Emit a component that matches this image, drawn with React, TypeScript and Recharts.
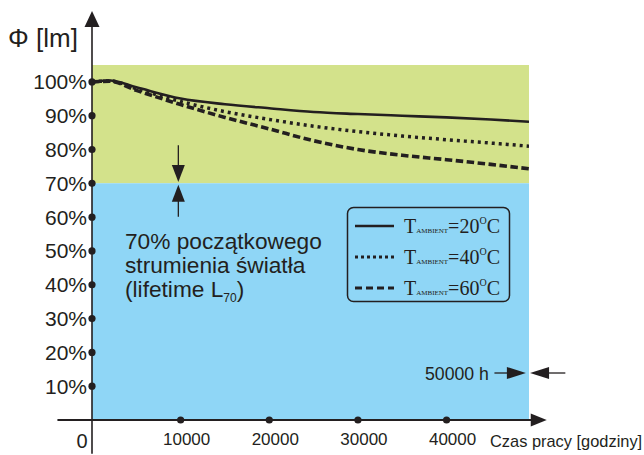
import React from "react"
import { ComposedChart, Line, XAxis, YAxis, ReferenceArea, ReferenceLine, ReferenceDot } from "recharts"

// operating hours and relative luminous flux (%) for three ambient temperatures
const HOURS = [0, 2000, 5000, 10000, 15000, 20000, 25000, 30000, 35000, 40000, 45000, 49300]
const T20 = [100, 100.4, 98.4, 95.1, 93.4, 92.2, 91.1, 90.5, 90.0, 89.5, 88.9, 88.2]
const T40 = [100, 100.3, 98.0, 94.2, 91.2, 88.9, 86.9, 85.3, 84.0, 82.9, 81.9, 81.0]
const T60 = [100, 100.2, 97.5, 93.3, 89.5, 86.1, 82.6, 80.0, 78.3, 77.0, 75.6, 74.3]

const X_TICKS = [10000, 20000, 30000, 40000]
const Y_TICKS = [10, 20, 30, 40, 50, 60, 70, 80, 90, 100]

const rows = HOURS.map((h, i) => ({ h, t20: T20[i], t40: T40[i], t60: T60[i] }))

const INK = "#231f20"
const GREEN = "#d3e28b"
const BLUE = "#8fd6f6"
const SANS = "'Liberation Sans', Arial, sans-serif"
const SERIF = "'Liberation Serif', 'Times New Roman', serif"

const YTick = (p: any) => (
  <g>
    <circle cx={p.x} cy={p.y} r={3.6} fill={INK} />
    <text x={p.x - 5} y={p.y + 7.5} textAnchor="end" fontFamily={SANS} fontSize={21} fill={INK}>
      {p.payload.value}%
    </text>
  </g>
)

const XTick = (p: any) => (
  <g>
    <circle cx={p.x} cy={p.y} r={3.6} fill={INK} />
    <text x={p.x + 6} y={p.y + 25} textAnchor="middle" fontFamily={SANS} fontSize={17} fill={INK}>
      {p.payload.value}
    </text>
  </g>
)

// arrowhead with its tip at the reference point
const head = (dir: string, len: number, wid: number) => (p: any) => {
  const { cx, cy } = p
  const w = wid / 2
  let pts = ""
  if (dir === "up") pts = `${cx},${cy} ${cx - w},${cy + len} ${cx + w},${cy + len}`
  if (dir === "down") pts = `${cx},${cy} ${cx - w},${cy - len} ${cx + w},${cy - len}`
  if (dir === "right") pts = `${cx},${cy} ${cx - len},${cy - w} ${cx - len},${cy + w}`
  if (dir === "left") pts = `${cx},${cy} ${cx + len},${cy - w} ${cx + len},${cy + w}`
  return <polygon points={pts} fill={INK} />
}

const LegendRow = ({ y, dash, label }: { y: number; dash?: string; label: string }) => (
  <g>
    <line x1={355} x2={394} y1={y} y2={y} stroke={INK} strokeWidth={dash ? 3 : 2.4} strokeDasharray={dash} />
    <text x={404} y={y + 7} fontFamily={SERIF} fontSize={20} fill={INK}>
      T<tspan fontSize={7}>AMBIENT</tspan>={label}
      <tspan fontSize={10} dy={-9}>O</tspan>
      <tspan dy={9}>C</tspan>
    </text>
  </g>
)

export default function App() {
  return (
    <div style={{ position: "absolute", left: 0, top: 0, width: 644, height: 455, background: "#fff" }}>
      <ComposedChart width={644} height={455} data={rows} margin={{ top: 65, right: 115, left: 0, bottom: 0 }}>
        <XAxis
          dataKey="h"
          type="number"
          domain={[0, 49300]}
          allowDataOverflow
          ticks={X_TICKS}
          interval={0}
          height={35}
          axisLine={false}
          tickLine={false}
          tickSize={0}
          tickMargin={0}
          tick={XTick}
        />
        <YAxis
          type="number"
          domain={[0, 105]}
          allowDataOverflow
          ticks={Y_TICKS}
          interval={0}
          width={92}
          axisLine={false}
          tickLine={false}
          tickSize={0}
          tickMargin={0}
          tick={YTick}
        />
        <ReferenceArea x1={0} x2={49300} y1={70} y2={105} fill={GREEN} fillOpacity={1} stroke="none" />
        <ReferenceArea x1={0} x2={49300} y1={0} y2={70} fill={BLUE} fillOpacity={1} stroke="none" />

        <Line dataKey="t20" type="monotone" stroke={INK} strokeWidth={2.6} dot={false} isAnimationActive={false} />
        <Line dataKey="t40" type="monotone" stroke={INK} strokeWidth={3.5} strokeDasharray="3 4" dot={false} isAnimationActive={false} />
        <Line dataKey="t60" type="monotone" stroke={INK} strokeWidth={3.6} strokeDasharray="7.5 3.5" dot={false} isAnimationActive={false} />

        {/* axes with arrows */}
        <ReferenceLine segment={[{ x: 0, y: -10 }, { x: 0, y: 118 }]} stroke={INK} strokeWidth={1.6} ifOverflow="visible" />
        <ReferenceLine segment={[{ x: -3900, y: 0 }, { x: 49600, y: 0 }]} stroke={INK} strokeWidth={1.8} ifOverflow="visible" />
        <ReferenceDot x={0} y={121} r={0} ifOverflow="visible" shape={head("up", 16, 15)} />
        <ReferenceDot x={51300} y={0} r={0} ifOverflow="visible" shape={head("right", 16, 13)} />

        {/* 70% marker */}
        <ReferenceLine segment={[{ x: 9740, y: 81.3 }, { x: 9740, y: 74 }]} stroke={INK} strokeWidth={1.3} ifOverflow="visible" />
        <ReferenceDot x={9740} y={70.4} r={0} ifOverflow="visible" shape={head("down", 17, 13)} />
        <ReferenceLine segment={[{ x: 9740, y: 66 }, { x: 9740, y: 60.1 }]} stroke={INK} strokeWidth={1.3} ifOverflow="visible" />
        <ReferenceDot x={9740} y={69.6} r={0} ifOverflow="visible" shape={head("up", 17, 13)} />

        {/* 50000 h marker */}
        <ReferenceLine segment={[{ x: 45400, y: 13.9 }, { x: 47500, y: 13.9 }]} stroke={INK} strokeWidth={1.3} ifOverflow="visible" />
        <ReferenceDot x={48950} y={13.9} r={0} ifOverflow="visible" shape={head("right", 19, 12)} />
        <ReferenceLine segment={[{ x: 51500, y: 13.9 }, { x: 53400, y: 13.9 }]} stroke={INK} strokeWidth={1.3} ifOverflow="visible" />
        <ReferenceDot x={49420} y={13.9} r={0} ifOverflow="visible" shape={head("left", 19, 12)} />
      </ComposedChart>

      <svg width={644} height={455} style={{ position: "absolute", left: 0, top: 0, pointerEvents: "none" }}>
        <text x={8} y={47} fontFamily={SANS} fontSize={26} fill={INK}>Φ [lm]</text>
        <text x={82} y={448} textAnchor="middle" fontFamily={SANS} fontSize={20} fill={INK}>0</text>
        <text x={490} y={447} fontFamily={SANS} fontSize={16.4} fill={INK}>Czas pracy [godziny]</text>
        <text x={425} y={380} fontFamily={SANS} fontSize={17.7} fill={INK}>50000 h</text>

        <g fontFamily={SANS} fontSize={22.7} fill={INK}>
          <text x={125} y={249}>70% początkowego</text>
          <text x={125} y={273}>strumienia światła</text>
          <text x={125} y={297}>
            (lifetime L<tspan fontSize={12} dy={5}>70</tspan>
            <tspan dy={-5}>)</tspan>
          </text>
        </g>

        <rect x={347.5} y={207.5} width={162} height={94} rx={6} fill={BLUE} stroke={INK} strokeWidth={1.5} />
        <LegendRow y={226} label="20" />
        <LegendRow y={257} dash="3 3" label="40" />
        <LegendRow y={288} dash="7 4" label="60" />
      </svg>
    </div>
  )
}
